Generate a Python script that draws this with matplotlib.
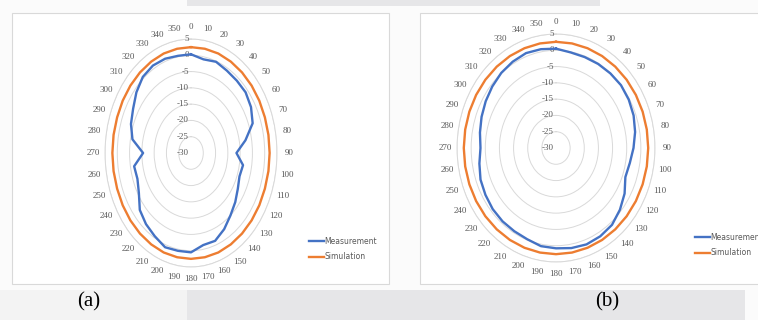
import numpy as np
import matplotlib.pyplot as plt
from matplotlib.patches import Rectangle
from matplotlib.transforms import offset_copy

# angles in degrees, 10 degree steps
angles = np.arange(0, 360, 10)

# panel (a), dB
meas_a = [0.3, -0.8, -0.2, -0.8, -1.0, -1.0, -1.8, -3.3, -7.5, -11.5,
          -8.5, -9.0, -8.0, -6.5, -5.0, -3.0, -1.3, -1.3, 0.5, 0.5,
          0.8, -0.5, -1.5, -2.8, -5.5, -6.8, -6.5, -10.5, -5.8, -4.0,
          -2.8, -1.0, 0.5, 1.0, 0.8, 0.3]
sim_a = [2.5, 2.5, 2.5, 2.4, 2.3, 2.2, 2.1, 2.0, 2.0, 2.0,
         2.0, 2.0, 2.1, 2.2, 2.3, 2.4, 2.5, 2.5, 2.5, 2.5,
         2.5, 2.4, 2.3, 2.2, 2.1, 2.0, 2.0, 2.0, 2.0, 2.0,
         2.1, 2.2, 2.3, 2.4, 2.5, 2.5]

# panel (b), dB
meas_b = [0.5, -0.2, -0.3, -0.2, -0.1, 0.0, -0.3, -0.8, -1.6, -2.6,
          -3.5, -3.9, -2.0, -0.5, 0.8, 1.3, 1.5, 1.2, 0.8, 0.6,
          -0.2, -0.5, -0.6, -0.8, -1.2, -1.6, -2.5, -3.3, -2.7, -2.0,
          -1.3, -0.6, 0.1, 0.6, 1.0, 0.8]
sim_b = [2.6, 2.6, 2.6, 2.6, 2.6, 2.6, 2.6, 2.6, 2.6, 2.6,
         2.6, 2.6, 2.6, 2.6, 2.6, 2.6, 2.6, 2.6, 2.6, 2.6,
         2.6, 2.6, 2.6, 2.6, 2.6, 2.6, 2.6, 2.6, 2.6, 2.6,
         2.6, 2.6, 2.6, 2.6, 2.6, 2.6]

r_ticks = [-30, -25, -20, -15, -10, -5, 0, 5]
series_names = ['Measurement', 'Simulation']

BLUE = '#4472C4'
ORANGE = '#ED7D31'
GRID = '#d9d9d9'
TXT = '#595959'

W, H = 758, 320
fig = plt.figure(figsize=(W / 100, H / 100), dpi=100)
fig.patch.set_facecolor('#fbfbfb')


def px(x0, y0, x1, y1):
    # pixel box (top-left origin) -> figure fraction rect
    return [x0 / W, 1 - y1 / H, (x1 - x0) / W, (y1 - y0) / H]


def box(x0, y0, x1, y1, fc, ec='none', lw=0, z=0):
    l, b, w, h = px(x0, y0, x1, y1)
    fig.add_artist(Rectangle((l, b), w, h, transform=fig.transFigure,
                             facecolor=fc, edgecolor=ec, linewidth=lw, zorder=z))


# background bands
box(187, 0, 600, 6, '#e6e6e8')
box(187, 290, 745, 320, '#e6e6e8')
box(0, 290, 187, 320, '#f3f3f3')
# panel frames
box(12, 13, 389, 284, 'white', '#d9d9d9', 0.8)
box(420, 13, 800, 284, 'white', '#d9d9d9', 0.8)


def radar(rect, meas, sim, leg_xy):
    ax = fig.add_axes(rect, projection='polar')
    ax.set_aspect('auto')
    ax.set_facecolor('none')
    ax.set_theta_zero_location('N')
    ax.set_theta_direction(-1)
    th = np.deg2rad(np.append(angles, angles[0]))
    l1, = ax.plot(th, np.append(meas, meas[0]), color=BLUE, lw=1.7,
                  label=series_names[0], zorder=4)
    l2, = ax.plot(th, np.append(sim, sim[0]), color=ORANGE, lw=1.7,
                  label=series_names[1], zorder=3)
    ax.set_ylim(r_ticks[0], r_ticks[-1])
    ax.set_yticks(r_ticks)
    ax.set_yticklabels([])
    ax.yaxis.grid(True, color=GRID, lw=0.7)
    ax.set_thetagrids(angles, [str(a) for a in angles],
                      fontsize=6.5, color=TXT, family='Liberation Serif')
    ax.xaxis.grid(False)
    ax.tick_params(axis='x', pad=-2)
    ax.spines['polar'].set_color(GRID)
    ax.spines['polar'].set_linewidth(0.7)
    tr = offset_copy(ax.transData, fig=fig, x=-1.5, y=0, units='points')
    for r in r_ticks:
        ax.text(0, r, str(r), transform=tr, ha='right', va='center',
                fontsize=6.5, color=TXT, family='Liberation Serif')
    fig.legend(handles=[l1, l2], loc='center left', bbox_to_anchor=leg_xy,
               frameon=False, fontsize=5.5, handlelength=2.0, handletextpad=0,
               labelspacing=0.9, labelcolor=TXT)
    return ax


radar(px(105, 39, 277, 267), meas_a, sim_a, (302 / W, 1 - 249 / H))
radar(px(457, 34, 655, 262), meas_b, sim_b, (688 / W, 1 - 245 / H))

fig.text(89 / W, 1 - 302 / H, '(a)', ha='center', va='center',
         fontsize=15, family='Liberation Serif')
fig.text(607 / W, 1 - 302 / H, '(b)', ha='center', va='center',
         fontsize=15, family='Liberation Serif')

fig.savefig('out.png', dpi=100, facecolor=fig.get_facecolor())
